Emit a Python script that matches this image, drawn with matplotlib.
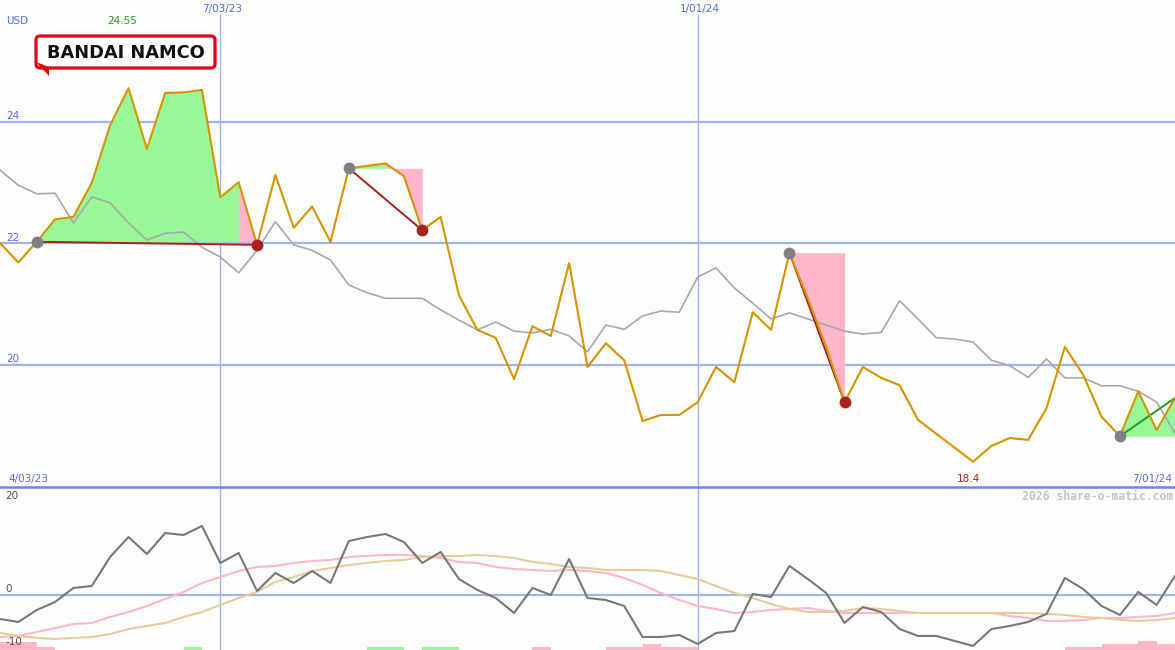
import numpy as np
import matplotlib
matplotlib.use("Agg")
import matplotlib.pyplot as plt
from matplotlib.patches import FancyBboxPatch, Polygon

# weekly closes, USD (week 0 .. week 64)
price = [22.00, 21.68, 22.02, 22.39, 22.43, 22.99, 23.94, 24.55, 23.55, 24.47,
         24.48, 24.52, 22.75, 23.00, 21.97, 23.12, 22.25, 22.60, 22.02, 23.23,
         23.27, 23.31, 23.10, 22.21, 22.43, 21.14, 20.57, 20.44, 19.76, 20.63,
         20.47, 21.67, 19.96, 20.35, 20.07, 19.07, 19.17, 19.17, 19.38, 19.96,
         19.71, 20.86, 20.57, 21.84, 21.09, 20.29, 19.38, 19.96, 19.78, 19.66,
         19.09, 18.86, 18.63, 18.40, 18.66, 18.79, 18.76, 19.28, 20.29, 19.83,
         19.14, 18.82, 19.56, 18.92, 19.45]
avg = [23.20, 22.95, 22.81, 22.82, 22.33, 22.76, 22.66, 22.33, 22.05, 22.16,
       22.18, 21.93, 21.77, 21.51, 21.88, 22.35, 21.97, 21.88, 21.72, 21.31,
       21.18, 21.09, 21.09, 21.09, 20.90, 20.73, 20.57, 20.70, 20.55, 20.52,
       20.58, 20.47, 20.21, 20.65, 20.58, 20.80, 20.88, 20.86, 21.44, 21.59,
       21.26, 21.01, 20.75, 20.85, 20.75, 20.65, 20.55, 20.50, 20.53, 21.05,
       20.75, 20.44, 20.42, 20.37, 20.07, 19.98, 19.79, 20.09, 19.78, 19.78,
       19.65, 19.65, 19.56, 19.38, 18.87]

# lower panel
momentum = [-4.44, -5.00, -2.78, -1.30, 1.30, 1.67, 7.04, 10.74, 7.59, 11.48,
            11.11, 12.78, 5.93, 7.78, 0.74, 4.07, 2.22, 4.44, 2.22, 10.00,
            10.74, 11.30, 9.81, 5.93, 7.96, 2.96, 0.93, -0.56, -3.33, 1.30,
            0.00, 6.67, -0.56, -0.93, -2.04, -7.78, -7.78, -7.41, -9.07, -7.04,
            -6.67, 0.19, -0.37, 5.37, 2.96, 0.37, -5.19, -2.22, -3.15, -6.30,
            -7.59, -7.59, -8.52, -9.44, -6.30, -5.74, -5.00, -3.52, 3.15, 1.11,
            -2.04, -3.70, 0.56, -1.85, 3.52]
fast = [-7.78, -7.59, -6.85, -6.11, -5.37, -5.19, -4.07, -3.15, -2.04, -0.74,
        0.56, 2.22, 3.33, 4.44, 5.19, 5.37, 5.93, 6.30, 6.48, 7.04,
        7.22, 7.41, 7.41, 7.22, 6.85, 6.11, 5.93, 5.19, 4.81, 4.63,
        4.44, 4.63, 4.44, 4.07, 3.15, 1.85, 0.37, -0.93, -2.04, -2.59,
        -3.33, -3.15, -2.78, -2.59, -2.41, -2.96, -3.33, -3.33, -3.33, -3.33,
        -3.33, -3.33, -3.33, -3.33, -3.33, -3.89, -4.26, -4.81, -4.81, -4.63,
        -4.26, -4.26, -4.07, -3.89, -3.33]
slow = [-7.04, -7.59, -7.96, -8.15, -7.96, -7.78, -7.22, -6.30, -5.74, -5.19,
        -4.07, -3.15, -1.85, -0.56, 0.56, 2.41, 3.33, 4.44, 5.00, 5.56,
        5.93, 6.30, 6.48, 7.04, 7.22, 7.22, 7.41, 7.22, 6.85, 6.11,
        5.74, 5.19, 5.00, 4.63, 4.63, 4.63, 4.44, 3.70, 2.96, 1.67,
        0.37, -0.56, -1.67, -2.59, -3.15, -3.15, -2.96, -2.41, -2.59, -2.96,
        -3.33, -3.33, -3.33, -3.33, -3.33, -3.33, -3.33, -3.52, -3.70, -4.07,
        -4.26, -4.63, -4.81, -4.63, -4.26]
green_weeks = [10, 20, 21, 23, 24]
green_h = [0.55, 0.55, 0.55, 0.55, 0.55]
pink_weeks = [0, 1, 2, 29, 33, 34, 35, 36, 37, 58, 59, 60, 61, 62, 63]
pink_h = [1.4, 1.4, 0.55, 0.55, 0.55, 0.55, 1.1, 0.55, 0.55,
          0.55, 0.55, 1.1, 1.1, 1.65, 1.1]

# trades: entry week, exit week, week where fill turns pink
trades = [(2, 14, 13), (19, 23, 21), (43, 46, 43), (61, 64, 64)]
open_trade = 3

date_labels = ["7/03/23", "1/01/24"]
date_weeks = [12, 38]

W, H = 1175, 650
bg = "#fcfefc"
grid = "#a4b2f4"
blue = "#5a68e6"
orange = "#d99200"
dred = "#a82020"
gfill = "#98f898"
pfill = "#ffb6ca"

plt.rcParams['font.family'] = 'DejaVu Sans'
fig = plt.figure(figsize=(W / 100, H / 100), dpi=100, facecolor=bg)

ax = fig.add_axes([0, 163 / H, 1, 487 / H])
ax2 = fig.add_axes([0, 0, 1, 163 / H])
x = np.arange(len(price))
for a in (ax, ax2):
    a.set_facecolor(bg)
    a.set_xlim(0, len(price) - 1)
    a.axis('off')
ax.set_ylim(17.984, 26.0)
ax2.set_ylim(-10.19, 20)

# grid
for v in [20, 22, 24]:
    ax.axhline(v, color=grid, lw=1.6, zorder=1)
ax2.axhline(0, color=grid, lw=1.6, zorder=1)
for w in date_weeks:
    ax.axvline(w, ymax=1 - 15 / 487, color=grid, lw=1.0, zorder=1)
    ax2.axvline(w, color=grid, lw=1.0, zorder=1)

# trade fills
p = np.array(price)
for k, (a, b, turn) in enumerate(trades):
    base = price[a]
    if turn > a:
        ax.fill_between(x[a:turn + 1], p[a:turn + 1], base, color=gfill, lw=0, zorder=2)
    if b > turn:
        ax.fill_between(x[turn:b + 1], p[turn:b + 1], base, color=pfill, lw=0, zorder=2)

ax.plot(x, avg, color="#a8a8a8", lw=1.2, zorder=3)

for k, (a, b, turn) in enumerate(trades):
    c = "#229922" if k == open_trade else dred
    ax.plot([a, b], [price[a], price[b]], color=c, lw=1.4, zorder=4)

ax.plot(x, price, color=orange, lw=1.5, zorder=5)

for k, (a, b, turn) in enumerate(trades):
    ax.plot(a, price[a], 'o', color="#808080", ms=8.5, mec="none", zorder=6)
    if k != open_trade:
        ax.plot(b, price[b], 'o', color=dred, ms=8.5, mec="none", zorder=6)

# lower panel
ax2.bar(green_weeks, green_h, width=1, bottom=-10.19, align='edge', color=gfill, lw=0, zorder=2)
ax2.bar(pink_weeks, pink_h, width=1, bottom=-10.19, align='edge', color=pfill, lw=0, zorder=2)
ax2.plot(x, fast, color="#ffb6ca", lw=1.5, zorder=3)
ax2.plot(x, slow, color="#e6cc9c", lw=1.5, zorder=3)
ax2.plot(x, momentum, color="#787878", lw=1.5, zorder=4)

# text / logo overlay in pixel units
ov = fig.add_axes([0, 0, 1, 1])
ov.set_xlim(0, W)
ov.set_ylim(H, 0)
ov.axis('off')
ov.patch.set_alpha(0)
ov.axhline(487, color="#7282ec", lw=1.8, zorder=1)

fs = 7.5
ov.text(6, 21, "USD", color=blue, fontsize=fs, va='center')
ov.text(122, 21, "%.2f" % max(price), color="#22a022", fontsize=fs, ha='center', va='center')
for lab, w in zip(date_labels, date_weeks):
    ov.text(w * W / (len(price) - 1) + 2, 9, lab, color=blue, fontsize=fs, ha='center', va='center')
for lab, yy in [("24", 116), ("22", 238), ("20", 359)]:
    ov.text(6, yy, lab, color=blue, fontsize=fs, va='center')
ov.text(8, 479, "4/03/23", color=blue, fontsize=fs, va='center')
ov.text(968, 479, "%.1f" % min(price), color=dred, fontsize=fs, ha='center', va='center')
ov.text(1172, 479, "7/01/24", color=blue, fontsize=fs, ha='right', va='center')
ov.text(1173, 496, "2026 share-o-matic.com", color="#c4c4c4", fontsize=8.3,
        family='DejaVu Sans Mono', weight='bold', ha='right', va='center')
for lab, yy in [("20", 496), ("0", 589), ("-10", 642)]:
    ov.text(5, yy, lab, color="#505050", fontsize=fs, va='center')

ov.add_patch(FancyBboxPatch((36, 36), 179, 32, boxstyle="round,pad=0,rounding_size=4",
                            fc="white", ec="#e60012", lw=2.3, zorder=5))
ov.add_patch(Polygon([(36, 62), (49, 76), (49, 67)], closed=True, fc="#e60012", ec="none", zorder=6))
ov.text(126, 53, "BANDAI NAMCO", color="#111111", fontsize=12.8, weight='bold',
        ha='center', va='center', zorder=7)

fig.savefig("out.png", dpi=100, facecolor=bg)
